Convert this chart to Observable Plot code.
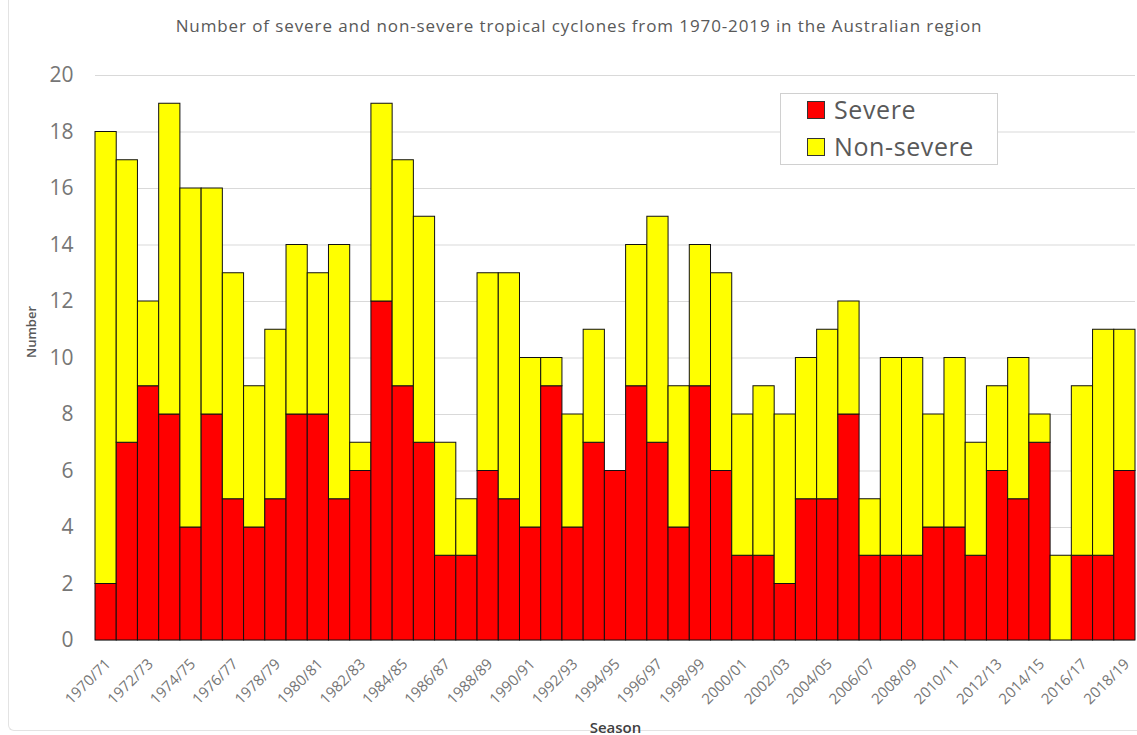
<!DOCTYPE html>
<html><head><meta charset="utf-8">
<script src="https://cdn.jsdelivr.net/npm/d3@7"></script>
<script src="https://cdn.jsdelivr.net/npm/@observablehq/plot@0.6"></script>
<style>
body{margin:0;background:#fff;font-family:"Open Sans",sans-serif;}
#wrap{position:relative;width:1137px;height:735px;overflow:hidden;background:#fff;}
#title{position:absolute;top:14px;left:0;width:1158px;text-align:center;font-size:17px;letter-spacing:0.9px;color:#595959;white-space:nowrap;}
#frame{position:absolute;left:8px;top:-10px;width:1200px;height:740px;border-left:1px solid #e3e3e3;border-bottom:1px solid #e3e3e3;border-bottom-left-radius:6px;}
#legend{position:absolute;left:780px;top:93px;width:218px;height:72px;border:1px solid #d0d0d0;background:#fff;box-sizing:border-box;}
.li{position:absolute;left:26px;display:flex;align-items:center;font-size:25px;letter-spacing:0.6px;color:#595959;line-height:1;}
.sw{width:18px;height:18px;border:1px solid #333;margin-right:9px;box-sizing:border-box;}
#chart{position:absolute;left:0;top:0;}
</style>
</head><body>
<div id="wrap">
  <div id="frame"></div>
  <div id="chart"></div>
  <div id="title">Number of severe and non-severe tropical cyclones from 1970-2019 in the Australian region</div>
  <div id="legend"></div>
</div>
<script>
const seasons = ["1970/71","1971/72","1972/73","1973/74","1974/75","1975/76","1976/77","1977/78","1978/79","1979/80",
"1980/81","1981/82","1982/83","1983/84","1984/85","1985/86","1986/87","1987/88","1988/89","1989/90",
"1990/91","1991/92","1992/93","1993/94","1994/95","1995/96","1996/97","1997/98","1998/99","1999/00",
"2000/01","2001/02","2002/03","2003/04","2004/05","2005/06","2006/07","2007/08","2008/09","2009/10",
"2010/11","2011/12","2012/13","2013/14","2014/15","2015/16","2016/17","2017/18","2018/19"];
const severe = [2,7,9,8,4,8,5,4,5,8,8,5,6,12,9,7,3,3,6,5,4,9,4,7,6,9,7,4,9,6,3,3,2,5,5,8,3,3,3,4,4,3,6,5,7,0,3,3,6];
const nonSevere = [16,10,3,11,12,8,8,5,6,6,5,9,1,7,8,8,4,2,7,8,6,1,4,4,0,5,8,5,5,7,5,6,6,5,6,4,2,7,7,4,6,4,3,5,1,3,6,8,5];
const types = ["Severe","Non-severe"];
const colors = ["#ff0000","#ffff00"];
const yTicks = [0,2,4,6,8,10,12,14,16,18,20];
const xTickLabels = ["1970/71","1972/73","1974/75","1976/77","1978/79","1980/81","1982/83","1984/85","1986/87","1988/89",
"1990/91","1992/93","1994/95","1996/97","1998/99","2000/01","2002/03","2004/05","2006/07","2008/09",
"2010/11","2012/13","2014/15","2016/17","2018/19"];

const rows = [];
seasons.forEach((s,i)=>{
  rows.push({season:s, type:types[0], value:severe[i]});
  rows.push({season:s, type:types[1], value:nonSevere[i]});
});

const chart = Plot.plot({
  width:1137, height:735,
  marginTop:75, marginBottom:95, marginLeft:95, marginRight:2,
  style:{fontFamily:"Open Sans", background:"transparent", overflow:"visible"},
  x:{domain:seasons, padding:0, round:false, label:null},
  y:{domain:[0,20], label:null},
  color:{domain:types, range:colors},
  marks:[
    Plot.gridY(yTicks,{stroke:"#d9d9d9", strokeOpacity:1, strokeWidth:1}),
    Plot.ruleY([0],{stroke:"#d9d9d9"}),
    Plot.barY(rows,{x:"season", y:"value", fill:"type", stroke:"#111", strokeWidth:1}),
    Plot.axisY(yTicks,{tickSize:0, tickPadding:22, fontSize:21, fill:"#767676", label:null}),
    Plot.axisX(xTickLabels,{tickSize:0, tickPadding:12, tickRotate:-45, fontSize:15, fill:"#767676", label:null, dx:2, dy:9}),
    Plot.text(["Number"],{frameAnchor:"left", dx:-64, rotate:-90, fontSize:13, fill:"#595959", fontWeight:"600"}),
    Plot.text(["Season"],{frameAnchor:"bottom", dy:92, fontSize:15, fill:"#404040", fontWeight:"600"})
  ]
});
document.getElementById("chart").appendChild(chart);

const lg = document.getElementById("legend");
types.forEach((t,i)=>{
  const d = document.createElement("div");
  d.className="li";
  d.style.top = (i===0? 3 : 40) + "px";
  d.innerHTML = `<span class="sw" style="background:${colors[i]}"></span><span>${t}</span>`;
  lg.appendChild(d);
});
</script>
</body></html>
